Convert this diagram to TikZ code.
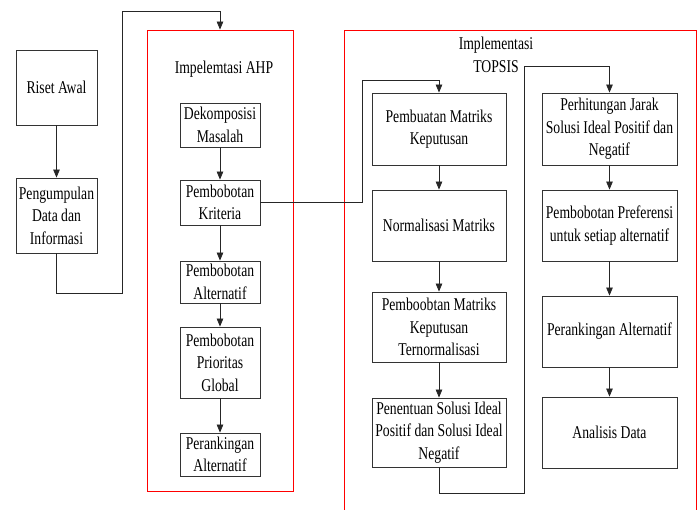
\documentclass[tikz,border=0pt]{standalone}
\usepackage{fontspec}
\setmainfont[FakeStretch=0.76]{Liberation Serif}
\usetikzlibrary{arrows.meta}
\begin{document}
\begin{tikzpicture}[x=1pt,y=-1pt,
  box/.style={draw=black!80, line width=0.8pt, align=center, inner sep=1pt,
    font=\fontsize{18}{22.5}\selectfont},
  redbox/.style={draw=red, line width=0.8pt},
  conn/.style={draw=black!85, line width=0.8pt},
  arr/.style={conn, -{Triangle[length=8pt,width=6.5pt]}},
  lbl/.style={align=center, font=\fontsize{18}{22.5}\selectfont}]
\useasboundingbox (0,0) rectangle (699,510);
% red containers
\node[redbox, minimum width=146pt, minimum height=461pt] (ahp) at (220,260.5) {};
\draw[redbox] (344,515) -- (344,30) -- (696,30) -- (696,515);
\node[lbl] (ahpt) at (224,69) {Impelemtasi AHP};
\node[lbl] (topt) at (496,55) {Implementasi\\TOPSIS};
% left boxes
\node[box, minimum width=81pt, minimum height=75pt] (riset) at (56.5,87.5) {Riset Awal};
\node[box, minimum width=81pt, minimum height=75pt] (peng) at (56.5,215.5) {Pengumpulan\\Data dan\\Informasi};
% AHP boxes
\node[box, minimum width=80pt, minimum height=44pt] (dek) at (220,125) {Dekomposisi\\Masalah};
\node[box, minimum width=80pt, minimum height=45pt] (krit) at (220,202.5) {Pembobotan\\Kriteria};
\node[box, minimum width=80pt, minimum height=42pt] (alt) at (220,282) {Pembobotan\\Alternatif};
\node[box, minimum width=80pt, minimum height=71pt] (glob) at (220,362.5) {Pembobotan\\Prioritas\\Global};
\node[box, minimum width=80pt, minimum height=43pt] (rank) at (220,454.5) {Perankingan\\Alternatif};
% TOPSIS boxes
\node[box, minimum width=134pt, minimum height=72pt] (pmk) at (439,129) {Pembuatan Matriks\\Keputusan};
\node[box, minimum width=134pt, minimum height=71pt] (norm) at (439,225.5) {Normalisasi Matriks};
\node[box, minimum width=134pt, minimum height=70pt] (pmkt) at (439,327) {Pemboobtan Matriks\\Keputusan\\Ternormalisasi};
\node[box, minimum width=134pt, minimum height=69pt] (pen) at (439,432.5) {Penentuan Solusi Ideal\\Positif dan Solusi Ideal\\Negatif};
\node[box, minimum width=135pt, minimum height=72pt] (jarak) at (609.5,129) {Perhitungan Jarak\\Solusi Ideal Positif dan\\Negatif};
\node[box, minimum width=135pt, minimum height=71pt] (pref) at (609.5,225.5) {Pembobotan Preferensi\\untuk setiap alternatif};
\node[box, minimum width=135pt, minimum height=71pt] (prank) at (609.5,331.5) {Perankingan Alternatif};
\node[box, minimum width=135pt, minimum height=71pt] (anal) at (609.5,432.5) {Analisis Data};
% connectors
\draw[arr] (riset) -- (peng);
\draw[arr] (peng.south) -- (56.5,293) -- (122,293) -- (122,11) -- (220,11) -- (ahp.north);
\draw[arr] (dek) -- (krit);
\draw[arr] (krit) -- (alt);
\draw[arr] (alt) -- (glob);
\draw[arr] (glob) -- (rank);
\draw[arr] (krit.east) -- (362,202.5) -- (362,80) -- (439,80) -- (pmk.north);
\draw[arr] (pmk) -- (norm);
\draw[arr] (norm) -- (pmkt);
\draw[arr] (pmkt) -- (pen);
\draw[arr] (pen.south) -- (439,493) -- (524,493) -- (524,66) -- (609.5,66) -- (jarak.north);
\draw[arr] (jarak) -- (pref);
\draw[arr] (pref) -- (prank);
\draw[arr] (prank) -- (anal);
\end{tikzpicture}
\end{document}
